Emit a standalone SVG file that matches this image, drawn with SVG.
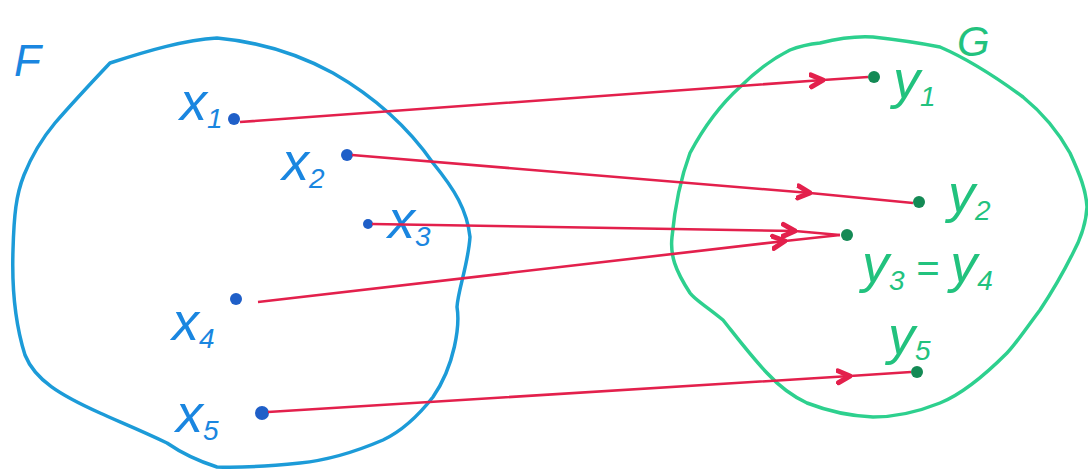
<svg xmlns="http://www.w3.org/2000/svg" width="1088" height="473" viewBox="0 0 1088 473">
<style>
.setF{fill:none;stroke:#1c9bd8;stroke-width:3.5;stroke-linejoin:round}
.setG{fill:none;stroke:#2dd08e;stroke-width:3.5;stroke-linejoin:round}
.lb{font-family:"Liberation Sans",sans-serif;font-style:italic;fill:#1a86e0}
.lg{font-family:"Liberation Sans",sans-serif;font-style:italic;fill:#22c27e}
.big{font-size:54px}
.sub{font-size:28px}
.dotb{fill:#1f5fc8}
.dotg{fill:#148a55}
.arr{fill:none;stroke:#e3204c;stroke-width:2.6;marker-mid:url(#chev)}
</style>
<defs>
<marker id="chev" viewBox="-14 -9 16 18" refX="0" refY="0" markerWidth="16" markerHeight="18" markerUnits="userSpaceOnUse" orient="auto">
<path d="M-12,-6 L0,0 L-12,6" fill="none" stroke="#e3204c" stroke-width="5" stroke-linecap="round" stroke-linejoin="round"/>
</marker>
</defs>
<g id="setF">
<path class="setF" d="M110,63 C150,50 185,40 217,38 C260,42 300,55 333,73 C380,100 410,130 433,163 C455,190 467,210 470,237 C468,265 458,290 457,307 C460,325 455,365 433,397 C415,420 400,432 383,440 C355,452 330,460 300,463 C270,466 240,468 217,467 C195,460 180,452 167,443 C140,430 115,420 100,413 C60,395 35,380 25,355 C14,320 12,280 13,250 C14,215 16,195 24,175 C34,150 45,135 55,123 C75,100 92,82 110,63 Z"/>
<text class="lb" x="14" y="76" font-size="44">F</text>
</g>
<g id="setG">
<path class="setG" d="M820,43 C840,38 858,36 873,37 C900,40 920,43 940,47 C970,60 1000,80 1023,97 C1045,115 1060,135 1070,153 C1080,175 1086,190 1087,207 C1086,225 1080,240 1073,253 C1062,275 1050,295 1040,310 C1025,330 1015,345 1007,353 C985,375 960,395 940,403 C915,413 895,417 873,417 C850,416 825,410 807,403 C790,395 778,385 767,373 C750,355 735,335 723,320 C705,305 695,300 690,293 C675,270 670,255 672,237 C675,205 680,180 690,153 C705,125 720,105 740,87 C755,72 770,60 790,50 C800,46 810,44 820,43 Z"/>
<text class="lg" x="957" y="56" font-size="42">G</text>
</g>
<g id="x1"><circle class="dotb" cx="234" cy="119" r="6"/><text class="lb big" x="180" y="120">x<tspan class="sub" dy="8">1</tspan></text></g>
<g id="x2"><circle class="dotb" cx="347" cy="155" r="6"/><text class="lb big" x="282" y="180">x<tspan class="sub" dy="8">2</tspan></text></g>
<g id="x3"><circle class="dotb" cx="368" cy="224" r="5"/><text class="lb big" x="388" y="238">x<tspan class="sub" dy="8">3</tspan></text></g>
<g id="x4"><circle class="dotb" cx="236" cy="299" r="6"/><text class="lb big" x="172" y="340">x<tspan class="sub" dy="8">4</tspan></text></g>
<g id="x5"><circle class="dotb" cx="262" cy="413" r="7"/><text class="lb big" x="176" y="432">x<tspan class="sub" dy="8">5</tspan></text></g>
<g id="y1"><circle class="dotg" cx="874" cy="77" r="6"/><text class="lg big" x="893" y="98">y<tspan class="sub" dy="8">1</tspan></text></g>
<g id="y2"><circle class="dotg" cx="919" cy="202" r="6"/><text class="lg big" x="948" y="212">y<tspan class="sub" dy="8">2</tspan></text></g>
<g id="y34"><circle class="dotg" cx="847" cy="235" r="6"/><text class="lg big" x="862" y="282">y<tspan class="sub" dy="8">3</tspan><tspan dy="-8" font-size="40"> = </tspan>y<tspan class="sub" dy="8">4</tspan></text></g>
<g id="y5"><circle class="dotg" cx="917" cy="372" r="6"/><text class="lg big" x="888" y="354">y<tspan class="sub" dy="6">5</tspan></text></g>
<g id="connectors">
<polyline class="arr" points="240,122 823,80 868,77"/>
<polyline class="arr" points="352,155 810,193 913,203"/>
<polyline class="arr" points="372,224 795,231 840,235"/>
<polyline class="arr" points="258,302 785,241 840,235"/>
<polyline class="arr" points="268,412 850,376 911,372"/>
</g>
</svg>
